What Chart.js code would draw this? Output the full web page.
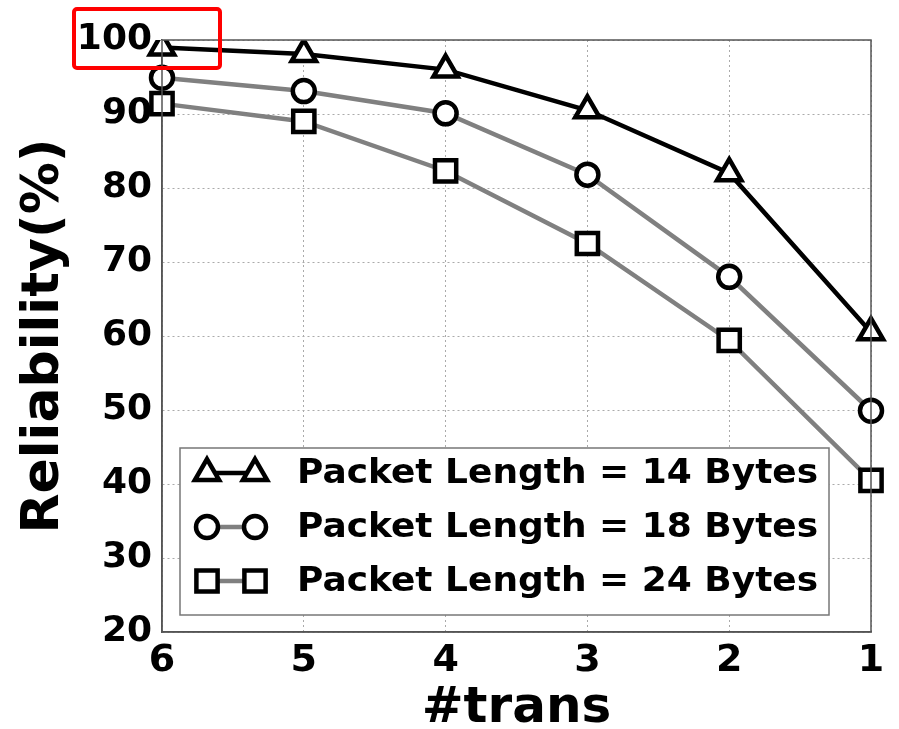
<!DOCTYPE html>
<html>
<head>
<meta charset="utf-8">
<script src="https://cdn.jsdelivr.net/npm/chart.js@4/dist/chart.umd.min.js"></script>
<style>
  html, body { margin: 0; padding: 0; background: #fff; }
  #wrap { width: 899px; height: 729px; }
</style>
</head>
<body>
<div id="wrap"><canvas id="myChart" width="899" height="729"></canvas></div>
<script>
// data
var transLabels = ["6", "5", "4", "3", "2", "1"];
var len14 = [99.0, 98.1, 96.0, 90.5, 82.0, 60.5];
var len18 = [94.9, 93.1, 90.1, 81.8, 68.0, 49.9];
var len24 = [91.4, 89.0, 82.3, 72.5, 59.4, 40.5];
var seriesNames = ["Packet Length = 14 Bytes", "Packet Length = 18 Bytes", "Packet Length = 24 Bytes"];

var FONT = "'DejaVu Sans', sans-serif";

// frame, legend and the red mark round "100"
var extras = {
    id: "extras",
    afterDraw: function(chart) {
        var ctx = chart.ctx;
        var a = chart.chartArea;
        ctx.save();
        // frame top/right
        ctx.strokeStyle = "#555";
        ctx.lineWidth = 1.5;
        ctx.strokeRect(a.left, a.top, a.right - a.left, a.bottom - a.top);

        // legend
        var bx = a.left + 18, by = a.top + 408, bw = 649, bh = 167;
        ctx.fillStyle = "#fff";
        ctx.fillRect(bx, by, bw, bh);
        ctx.strokeStyle = "#777";
        ctx.lineWidth = 1.5;
        ctx.strokeRect(bx, by, bw, bh);
        chart.data.datasets.forEach(function(ds, i) {
            var y = by + 25 + i * 54;
            var x1 = bx + 27, x2 = bx + 75;
            ctx.strokeStyle = ds.borderColor;
            ctx.lineWidth = ds.borderWidth;
            ctx.beginPath();
            ctx.moveTo(x1, y);
            ctx.lineTo(x2, y);
            ctx.stroke();
            [x1, x2].forEach(function(x) {
                ctx.fillStyle = "#fff";
                ctx.strokeStyle = "#000";
                ctx.lineWidth = ds.pointBorderWidth;
                Chart.helpers.drawPoint(ctx, {
                    pointStyle: ds.pointStyle,
                    radius: ds.pointRadius,
                    borderWidth: ds.pointBorderWidth,
                    rotation: 0
                }, x, y);
            });
            ctx.save();
            ctx.translate(bx + 117, y + 1);
            ctx.scale(1.09, 1);
            ctx.fillStyle = "#000";
            ctx.font = "bold 33px " + FONT;
            ctx.textBaseline = "middle";
            ctx.textAlign = "left";
            ctx.fillText(ds.label, 0, 0);
            ctx.restore();
        });

        // red box round the top tick label
        var yTop = chart.scales.y.getPixelForValue(100);
        ctx.strokeStyle = "#f00";
        ctx.lineWidth = 4;
        ctx.beginPath();
        ctx.roundRect(a.left - 88, yTop - 31, 146, 59, 3);
        ctx.stroke();
        ctx.restore();
    }
};

var markerBase = {
    pointBackgroundColor: "#fff",
    pointBorderColor: "#000",
    pointBorderWidth: 4.5,
    pointHoverBorderWidth: 4.5,
    fill: false,
    tension: 0
};

var ctx = document.getElementById("myChart").getContext("2d");
var chart = new Chart(ctx, {
    type: "line",
    data: {
        labels: transLabels,
        datasets: [
            Object.assign({}, markerBase, {
                label: seriesNames[0],
                data: len14,
                borderColor: "#000",
                borderWidth: 4.5,
                pointStyle: "triangle",
                pointRadius: 14,
                pointHoverRadius: 14
            }),
            Object.assign({}, markerBase, {
                label: seriesNames[1],
                data: len18,
                borderColor: "#808080",
                borderWidth: 4.5,
                pointStyle: "circle",
                pointRadius: 11,
                pointHoverRadius: 11
            }),
            Object.assign({}, markerBase, {
                label: seriesNames[2],
                data: len24,
                borderColor: "#808080",
                borderWidth: 4.5,
                pointStyle: "rect",
                pointRadius: 15,
                pointHoverRadius: 15
            })
        ]
    },
    options: {
        responsive: false,
        animation: false,
        layout: { padding: { top: 40, right: 28, left: 0, bottom: 0 } },
        plugins: {
            legend: { display: false },
            tooltip: { enabled: false }
        },
        scales: {
            x: {
                type: "category",
                offset: false,
                grid: {
                    color: "#aaa",
                    lineWidth: 1,
                    drawTicks: false
                },
                border: { display: true, color: "#555", width: 1.5, dash: [2, 3] },
                ticks: {
                    color: "#000",
                    font: { family: FONT, weight: "bold", size: 38 },
                    padding: 6,
                    maxRotation: 0
                },
                title: {
                    display: true,
                    text: "#trans",
                    color: "#000",
                    font: { family: FONT, weight: "bold", size: 50 },
                    padding: { top: 0, bottom: -10 }
                },
                afterFit: function(s) { s.height = 97; }
            },
            y: {
                min: 20,
                max: 100,
                grid: {
                    color: "#aaa",
                    lineWidth: 1,
                    drawTicks: false
                },
                border: { display: true, color: "#555", width: 1.5, dash: [2, 3] },
                ticks: {
                    stepSize: 10,
                    color: "#000",
                    font: { family: FONT, weight: "bold", size: 36 },
                    padding: 10
                },
                title: {
                    display: true,
                    text: "Reliability(%)",
                    color: "#000",
                    font: { family: FONT, weight: "bold", size: 52 },
                    padding: { top: 13, bottom: 0 }
                },
                afterFit: function(s) { s.width = 162; }
            }
        }
    },
    plugins: [extras]
});
</script>
</body>
</html>
